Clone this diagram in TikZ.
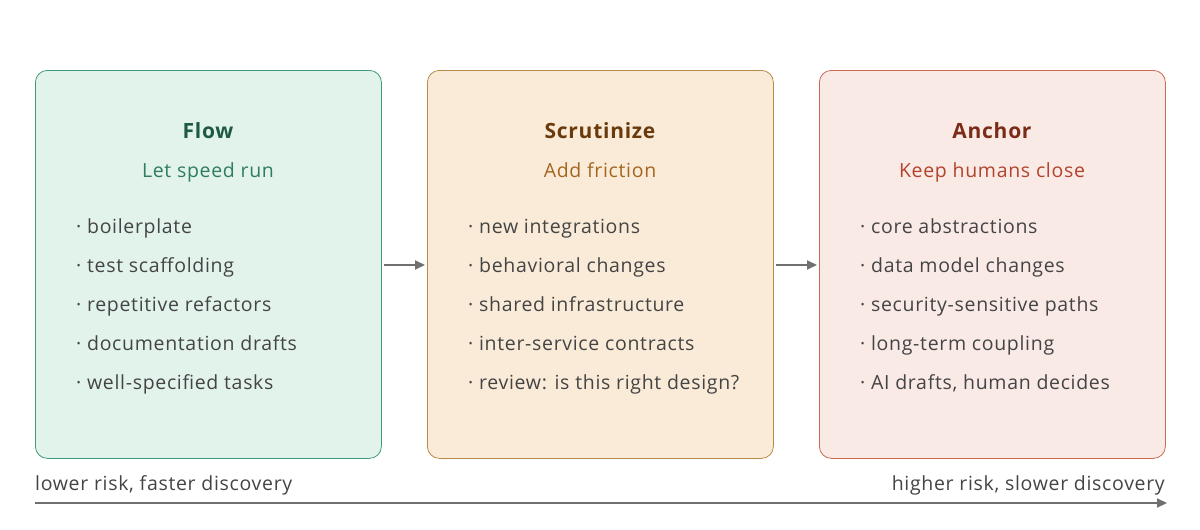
\documentclass[tikz,border=0pt]{standalone}
\usepackage{fontspec}
\setmainfont[LetterSpace=3.5]{Open Sans}
\usetikzlibrary{arrows.meta}
\definecolor{gfill}{HTML}{E2F3EC}\definecolor{gdraw}{HTML}{3F9A78}\definecolor{gtit}{HTML}{1E5A43}\definecolor{gsub}{HTML}{2F7D5C}
\definecolor{ofill}{HTML}{FAEBD8}\definecolor{odraw}{HTML}{B98A45}\definecolor{otit}{HTML}{6A3A0C}\definecolor{osub}{HTML}{A2661F}
\definecolor{rfill}{HTML}{FAEAE6}\definecolor{rdraw}{HTML}{C96A55}\definecolor{rtit}{HTML}{7A2C17}\definecolor{rsub}{HTML}{B2432C}
\definecolor{txt}{HTML}{444444}\definecolor{arr}{HTML}{707070}
\begin{document}
\begin{tikzpicture}[x=1pt,y=-1pt,
 box/.style={draw=#1,rounded corners=12pt,line width=0.8pt,minimum width=346pt,minimum height=388pt,anchor=north west,inner sep=0pt},
 tx/.style={text height=14pt,text depth=4pt,inner sep=0pt},
 tit/.style={tx,font=\fontsize{21}{24}\selectfont\bfseries,text=#1},
 sub/.style={tx,font=\fontsize{19.5}{22}\selectfont,text=#1},
 item/.style={tx,font=\fontsize{19.5}{22}\selectfont,text=txt,anchor=west},
 lab/.style={tx,font=\fontsize{19.5}{22}\selectfont,text=txt},
 ar/.style={draw=arr,line width=2pt,-{Stealth[length=10pt,width=9pt,inset=0pt]}}]
\useasboundingbox (0,0) rectangle (1200,530);
\node[box=gdraw,fill=gfill] (b1) at (35,70) {};
\node[box=odraw,fill=ofill] (b2) at (427,70) {};
\node[box=rdraw,fill=rfill] (b3) at (819,70) {};
\node[tit=gtit] (t1) at (208,133) {Flow};
\node[sub=gsub] (s1) at (208,172) {Let speed run};
\node[tit=otit] (t2) at (600,133) {Scrutinize};
\node[sub=osub] (s2) at (600,172) {Add friction};
\node[tit=rtit] (t3) at (992,133) {Anchor};
\node[sub=rsub] (s3) at (992,172) {Keep humans close};
\foreach \t [count=\i] in {boilerplate,test scaffolding,repetitive refactors,documentation drafts,well-specified tasks}
  \node[item] (a\i) at (76,189+39*\i) {· \t};
\foreach \t [count=\i] in {new integrations,behavioral changes,shared infrastructure,inter-service contracts,review: is this right design?}
  \node[item] (c\i) at (468,189+39*\i) {· \t};
\foreach \t [count=\i] in {core abstractions,data model changes,security-sensitive paths,long-term coupling,{AI drafts, human decides}}
  \node[item] (d\i) at (860,189+39*\i) {· \t};
\coordinate (p1) at (384,265); \coordinate (p2) at (425,265);
\coordinate (q1) at (776,265); \coordinate (q2) at (817,265);
\draw[ar] (p1) -- (p2);
\draw[ar] (q1) -- (q2);
\node[lab,anchor=west] (l1) at (35,485) {lower risk, faster discovery};
\node[lab,anchor=east] (l2) at (1165,485) {higher risk, slower discovery};
\coordinate (z1) at (35,503); \coordinate (z2) at (1167,503);
\draw[ar] (z1) -- (z2);
\end{tikzpicture}
\end{document}
